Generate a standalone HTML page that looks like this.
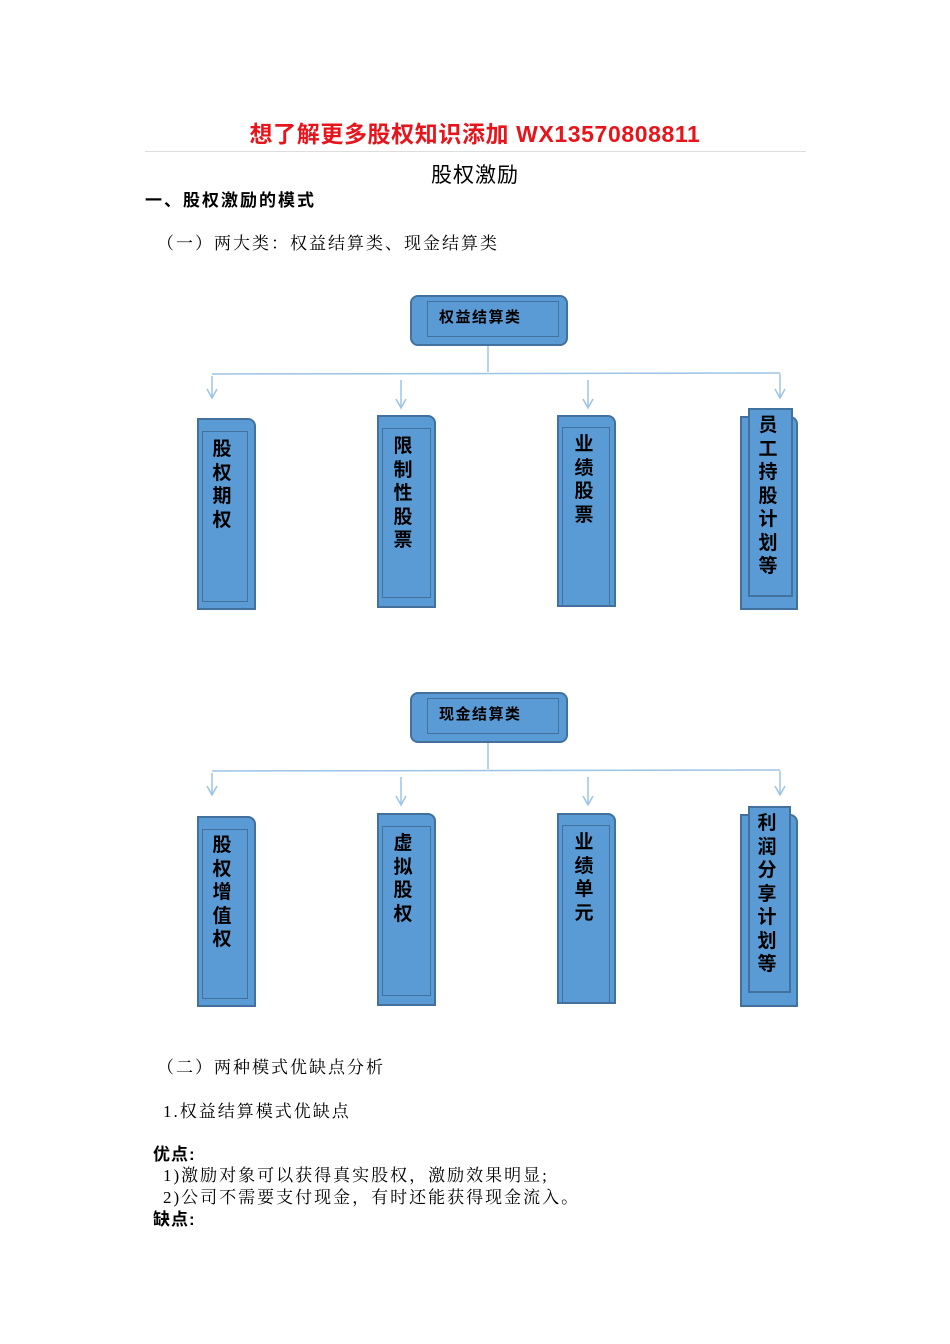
<!DOCTYPE html>
<html><head><meta charset="utf-8"><style>
body{margin:0;background:#fff;}
#p{position:relative;width:950px;height:1344px;overflow:hidden;font-family:"Liberation Serif","Noto Serif CJK SC",serif;color:#000;}
.a{position:absolute;white-space:nowrap;}
.t{letter-spacing:2px;}
.b{position:absolute;background:#5b9bd5;border:2px solid #41719c;box-sizing:border-box;}
.i{position:absolute;border:1.5px solid #41719c;box-sizing:border-box;}
.v{position:absolute;font-family:"Liberation Sans","Noto Sans CJK SC",sans-serif;font-weight:bold;font-size:19px;line-height:23.5px;width:20px;text-align:center;white-space:normal;}
.s{font-family:"Liberation Sans","Noto Sans CJK SC",sans-serif;}
</style></head><body><div id="p">
<div class="a s" style="left:0;width:950px;text-align:center;top:115px;font-size:23px;letter-spacing:0.6px;font-weight:bold;color:#e8141b;">想了解更多股权知识添加 WX13570808811</div>
<div class="a" style="left:145px;top:151px;width:661px;height:1px;background:#ddd;"></div>
<div class="a s" style="left:0;width:950px;text-align:center;top:159px;font-size:21px;letter-spacing:1px;">股权激励</div>
<div class="a s t" style="left:145px;top:186px;font-size:17px;font-weight:bold;">一、股权激励的模式</div>
<div class="a t" style="left:157px;top:229px;font-size:17px;">（一）两大类：权益结算类、现金结算类</div>

<svg class="a" style="left:0;top:0" width="950" height="1344">
<g stroke="#9dc3e6" stroke-width="1.5" fill="none">
<line x1="488" y1="346" x2="488" y2="372"/><line x1="212" y1="374" x2="780" y2="373"/>
<line x1="212" y1="376" x2="212" y2="398"/><path d="M207 389 L212 398 L217 389"/>
<line x1="401" y1="380" x2="401" y2="408"/><path d="M396 399 L401 408 L406 399"/>
<line x1="588" y1="380" x2="588" y2="408"/><path d="M583 399 L588 408 L593 399"/>
<line x1="780" y1="374" x2="780" y2="398"/><path d="M775 389 L780 398 L785 389"/>
<line x1="488" y1="743" x2="488" y2="769"/><line x1="212" y1="771" x2="780" y2="770"/>
<line x1="212" y1="773" x2="212" y2="795"/><path d="M207 786 L212 795 L217 786"/>
<line x1="401" y1="777" x2="401" y2="805"/><path d="M396 796 L401 805 L406 796"/>
<line x1="588" y1="777" x2="588" y2="805"/><path d="M583 796 L588 805 L593 796"/>
<line x1="780" y1="771" x2="780" y2="795"/><path d="M775 786 L780 795 L785 786"/>
</g></svg>

<div class="b" style="left:410px;top:295px;width:158px;height:51px;border-radius:8px;"></div>
<div class="i" style="left:427px;top:301px;width:132px;height:36px;"></div>
<div class="a s" style="left:439px;top:306px;font-size:15px;letter-spacing:1.5px;font-weight:bold;">权益结算类</div>

<div class="b" style="left:197px;top:418px;width:59px;height:192px;border-top-right-radius:8px;"></div>
<div class="i" style="left:202px;top:431px;width:46px;height:171px;"></div>
<div class="v" style="left:212px;top:438px;">股权期权</div>

<div class="b" style="left:377px;top:415px;width:59px;height:193px;border-top-right-radius:8px;"></div>
<div class="i" style="left:382px;top:428px;width:49px;height:170px;"></div>
<div class="v" style="left:393px;top:435px;">限制性股票</div>

<div class="b" style="left:557px;top:415px;width:59px;height:192px;border-top-right-radius:8px;"></div>
<div class="i" style="left:562px;top:427px;width:48px;height:180px;"></div>
<div class="v" style="left:574px;top:433px;">业绩股票</div>

<div class="b" style="left:740px;top:416px;width:58px;height:194px;border-top-right-radius:8px;"></div>
<div class="b" style="left:748px;top:408px;width:45px;height:189px;"></div>
<div class="v" style="left:758px;top:414px;">员工持股计划等</div>

<div class="b" style="left:410px;top:692px;width:158px;height:51px;border-radius:8px;"></div>
<div class="i" style="left:427px;top:698px;width:132px;height:36px;"></div>
<div class="a s" style="left:439px;top:703px;font-size:15px;letter-spacing:1.5px;font-weight:bold;">现金结算类</div>

<div class="b" style="left:197px;top:816px;width:59px;height:191px;border-top-right-radius:8px;"></div>
<div class="i" style="left:202px;top:829px;width:46px;height:170px;"></div>
<div class="v" style="left:212px;top:834px;">股权增值权</div>

<div class="b" style="left:377px;top:813px;width:59px;height:193px;border-top-right-radius:8px;"></div>
<div class="i" style="left:382px;top:826px;width:49px;height:170px;"></div>
<div class="v" style="left:393px;top:832px;">虚拟股权</div>

<div class="b" style="left:557px;top:813px;width:59px;height:191px;border-top-right-radius:8px;"></div>
<div class="i" style="left:562px;top:825px;width:48px;height:179px;"></div>
<div class="v" style="left:574px;top:831px;">业绩单元</div>

<div class="b" style="left:740px;top:814px;width:58px;height:193px;border-top-right-radius:8px;"></div>
<div class="b" style="left:748px;top:806px;width:43px;height:187px;"></div>
<div class="v" style="left:757px;top:812px;">利润分享计划等</div>

<div class="a t" style="left:157px;top:1053px;font-size:17px;">（二）两种模式优缺点分析</div>
<div class="a t" style="left:163px;top:1097px;font-size:17px;">1.权益结算模式优缺点</div>
<div class="a s" style="left:153px;top:1140px;font-size:17px;font-weight:bold;letter-spacing:1px;">优点:</div>
<div class="a t" style="left:163px;top:1161px;font-size:17px;">1)激励对象可以获得真实股权，激励效果明显;</div>
<div class="a t" style="left:163px;top:1183px;font-size:17px;">2)公司不需要支付现金，有时还能获得现金流入。</div>
<div class="a s" style="left:153px;top:1205px;font-size:17px;font-weight:bold;letter-spacing:1px;">缺点:</div>
</div></body></html>
